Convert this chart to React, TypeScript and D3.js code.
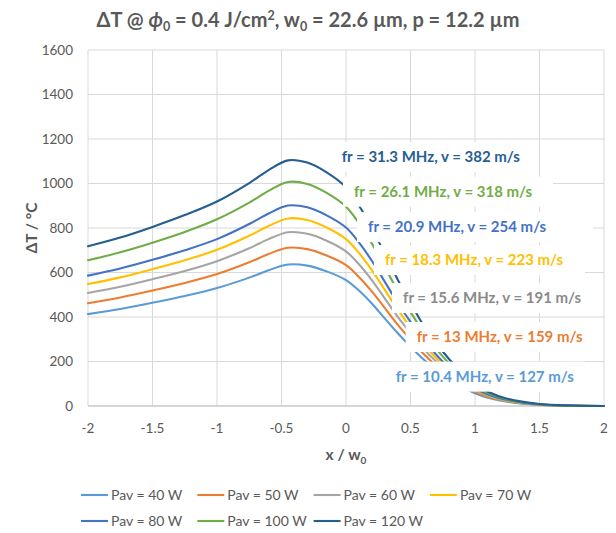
import React from 'react';
import * as d3 from 'd3';

// ---- data ----
const xValues = [-2, -1.75, -1.5, -1.25, -1, -0.75, -0.6, -0.45, -0.3, -0.15, 0, 0.1, 0.2, 0.3, 0.4, 0.5, 0.6, 0.7, 0.8, 0.9, 1.0, 1.1, 1.25, 1.5, 1.75, 2];

const pav40 = [413, 436, 464, 494, 530, 577, 610, 636, 631, 605, 566, 519, 461, 394, 328, 267, 210, 162, 121, 86, 57, 37, 19, 5, 1, 0];
const pav50 = [462, 488, 519, 553, 593, 646, 683, 711, 705, 676, 633, 580, 515, 441, 366, 299, 235, 181, 135, 96, 64, 41, 21, 6, 1, 0];
const pav60 = [508, 536, 570, 607, 651, 709, 750, 781, 774, 743, 695, 637, 566, 484, 402, 328, 258, 199, 148, 105, 70, 45, 23, 6, 2, 0];
const pav70 = [548, 578, 615, 655, 702, 765, 809, 843, 836, 802, 750, 688, 611, 523, 434, 354, 278, 215, 160, 114, 76, 49, 25, 7, 2, 0];
const pav80 = [586, 618, 657, 700, 750, 818, 865, 901, 893, 857, 802, 735, 653, 559, 464, 378, 297, 230, 171, 122, 81, 52, 27, 7, 2, 0];
const pav100 = [655, 691, 734, 782, 839, 914, 967, 1007, 998, 958, 896, 822, 730, 624, 519, 423, 332, 257, 191, 136, 91, 58, 30, 8, 2, 0];
const pav120 = [718, 757, 805, 858, 919, 1002, 1060, 1104, 1094, 1050, 983, 901, 800, 684, 569, 464, 364, 282, 210, 149, 99, 64, 33, 9, 2, 0];

const seriesNames = ['Pav = 40 W', 'Pav = 50 W', 'Pav = 60 W', 'Pav = 70 W', 'Pav = 80 W', 'Pav = 100 W', 'Pav = 120 W'];
const seriesValues = [pav40, pav50, pav60, pav70, pav80, pav100, pav120];
const seriesColors = ['#5B9BD5', '#ED7D31', '#A5A5A5', '#FFC000', '#4472C4', '#70AD47', '#255E91'];

const xTicks = [-2, -1.5, -1, -0.5, 0, 0.5, 1, 1.5, 2];
const yTicks = [0, 200, 400, 600, 800, 1000, 1200, 1400, 1600];

const annotationTexts = [
  'fr = 31.3 MHz, v = 382 m/s',
  'fr = 26.1 MHz, v = 318 m/s',
  'fr = 20.9 MHz, v = 254 m/s',
  'fr = 18.3 MHz, v = 223 m/s',
  'fr = 15.6 MHz, v = 191 m/s',
  'fr = 13 MHz, v = 159 m/s',
  'fr = 10.4 MHz, v = 127 m/s',
];
// anchor (text start x, text centre y) in data units
const annotationX = [-0.033, 0.062, 0.171, 0.302, 0.442, 0.548, 0.385];
const annotationY = [1119, 963, 804, 656, 485, 310, 132];
const annotationColors = ['#255E91', '#70AD47', '#4472C4', '#FFC000', '#8A8A8A', '#ED7D31', '#5B9BD5'];

// ---- layout ----
const W = 616;
const H = 533;
const plot = { left: 88, right: 604, top: 50, bottom: 406 };
const boxWidths = [200, 210, 236, 211, 205, 190, 201];
const textColor = '#595959';
const font = 'Lato, "Open Sans", sans-serif';

export default function App() {
  const x = d3.scaleLinear().domain([-2, 2]).range([plot.left, plot.right]);
  const y = d3.scaleLinear().domain([0, 1600]).range([plot.bottom, plot.top]);

  const line = d3
    .line<number>()
    .x((_, i) => x(xValues[i]))
    .y((d) => y(d))
    .curve(d3.curveCatmullRom.alpha(0.5));

  const legendRows = [
    [0, 1, 2, 3],
    [4, 5, 6],
  ];

  return (
    <svg
      width={W}
      height={H}
      viewBox={`0 0 ${W} ${H}`}
      style={{ position: 'absolute', left: 0, top: 0, background: '#fff' }}
      fontFamily={font}
    >
      <rect x={0} y={0} width={W} height={H} fill="#fff" />

      {/* title */}
      <text x={308} y={27} textAnchor="middle" fontSize={20} fontWeight="bold" fill={textColor}>
        <tspan>ΔT @ </tspan>
        <tspan fontStyle="italic">ϕ</tspan>
        <tspan fontSize={12.5} dy={4}>0</tspan>
        <tspan dy={-4}> = 0.4 J/cm</tspan>
        <tspan fontSize={12.5} dy={-7}>2</tspan>
        <tspan dy={7}>, w</tspan>
        <tspan fontSize={12.5} dy={4}>0</tspan>
        <tspan dy={-4}> = 22.6 µm, p = 12.2 µm</tspan>
      </text>

      {/* gridlines */}
      {yTicks.map((t) => (
        <line key={'gy' + t} x1={plot.left} x2={plot.right} y1={y(t)} y2={y(t)} stroke="#D9D9D9" strokeWidth={1} />
      ))}
      {xTicks.map((t) => (
        <line key={'gx' + t} x1={x(t)} x2={x(t)} y1={plot.top} y2={plot.bottom} stroke="#D9D9D9" strokeWidth={1} />
      ))}
      <line x1={plot.left} x2={plot.right} y1={plot.bottom} y2={plot.bottom} stroke="#BFBFBF" strokeWidth={1} />

      {/* tick labels */}
      {yTicks.map((t) => (
        <text key={'ty' + t} x={73} y={y(t)} dy="0.35em" textAnchor="end" fontSize={13.5} fill={textColor}>
          {t}
        </text>
      ))}
      {xTicks.map((t) => (
        <text key={'tx' + t} x={x(t)} y={428} dy="0.35em" textAnchor="middle" fontSize={13.5} fill={textColor}>
          {t}
        </text>
      ))}

      {/* axis titles */}
      <text
        transform={`translate(32, 228) rotate(-90)`}
        textAnchor="middle"
        dy="0.35em"
        fontSize={15.5}
        fontWeight="bold"
        fill={textColor}
      >
        ΔT / °C
      </text>
      <text x={346} y={455} dy="0.35em" textAnchor="middle" fontSize={15.5} fontWeight="bold" fill={textColor}>
        <tspan>x / w</tspan>
        <tspan fontSize={10} dy={4}>0</tspan>
      </text>

      {/* series */}
      {seriesValues.map((vals, i) => (
        <path key={'s' + i} d={line(vals) || ''} fill="none" stroke={seriesColors[i]} strokeWidth={2.1} strokeLinecap="round" />
      ))}

      {/* annotation boxes */}
      {annotationTexts.map((t, i) => {
        const tx = x(annotationX[i]);
        const ty = y(annotationY[i]);
        return (
          <g key={'a' + i}>
            <rect x={tx - 11} y={ty - 15} width={boxWidths[i]} height={30} fill="#fff" />
            <text x={tx} y={ty} dy="0.35em" fontSize={15} fontWeight="bold" fill={annotationColors[i]}>
              {t}
            </text>
          </g>
        );
      })}

      {/* legend */}
      {legendRows.map((row, r) =>
        row.map((si, c) => {
          const lx = 81 + c * 116.3;
          const ly = r === 0 ? 495 : 521;
          return (
            <g key={'l' + si}>
              <line x1={lx} x2={lx + 27} y1={ly} y2={ly} stroke={seriesColors[si]} strokeWidth={2.1} />
              <text x={lx + 30} y={ly} dy="0.35em" fontSize={14} fill={textColor}>
                {seriesNames[si]}
              </text>
            </g>
          );
        })
      )}
    </svg>
  );
}
